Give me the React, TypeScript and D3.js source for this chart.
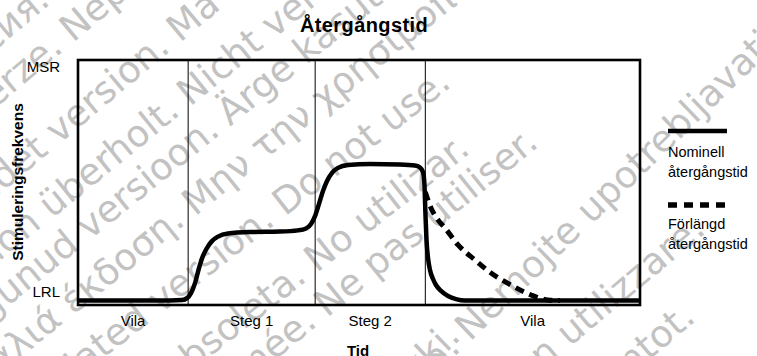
import React from "react";
import * as d3 from "d3";

const W = 757;
const H = 356;

// ---------------- data ----------------
const chartTitle = "Återgångstid";
const yAxisTitle = "Stimuleringsfrekvens";
const xAxisTitle = "Tid";
const yTickValues = [0, 1];
const yTickLabels = ["LRL", "MSR"];
const phaseLabels = ["Vila", "Steg 1", "Steg 2", "Vila"];
const phaseEdges = [0, 19.6, 42.2, 61.8, 100];

// nominal recovery (time in % of chart span, rate as fraction LRL=0 .. MSR=1)
const nominalTime = [
  0, 16.37, 18.51, 19.4, 20.11, 20.82, 21.53, 22.24, 22.95, 23.84, 24.91, 26.69,
  30.6, 35.94, 39.15, 40.57, 41.46, 42.17, 42.88, 43.59, 44.31, 45.2, 46.26, 48.04,
  51.96, 57.3, 59.96, 60.85, 61.39, 61.65, 61.83, 62.01, 62.28, 62.63, 63.17, 63.7,
  64.59, 65.84, 67.26, 68.86, 100,
];
const nominalRate = [
  0, 0, 0.002, 0.01, 0.031, 0.073, 0.136, 0.187, 0.22, 0.249, 0.268, 0.281,
  0.287, 0.289, 0.294, 0.302, 0.321, 0.354, 0.405, 0.459, 0.501, 0.535, 0.556, 0.568,
  0.572, 0.57, 0.566, 0.558, 0.539, 0.484, 0.358, 0.254, 0.178, 0.128, 0.09, 0.065,
  0.04, 0.019, 0.006, 0, 0,
];
// extended recovery
const extendedTime = [61.79, 62.81, 64.06, 65.3, 67.62, 70.64, 73.49, 77.05, 80.6, 83.63, 85.77];
const extendedRate = [0.455, 0.388, 0.338, 0.304, 0.233, 0.17, 0.115, 0.065, 0.023, 0.002, 0];

const legendNames = ["Nominell", "Förlängd"];
const legendSub = ["återgångstid", "återgångstid"];

const watermarkFirst = [
  "Остаряла версия.",
  "Zastaralá verze.",
  "Forældet version.",
  "Version überholt.",
  "Aegunud versioon.",
  "Παλιά έκδοση.",
  "Outdated version.",
  "Versión obsoleta.",
  "Version périmée.",
  "Zastarjela verzija.",
  "Úrelt útgáfa.",
  "Versione obsoleta.",
  "Novecojusi versija.",
];
const watermarkSecond = [
  "Да не се използва.",
  "Nepoužívat.",
  "Må ikke anvendes.",
  "Nicht verwenden.",
  "Ärge kasutage.",
  "Μην την χρησιμοποιείτε.",
  "Do not use.",
  "No utilizar.",
  "Ne pas utiliser.",
  "Nemojte upotrebljavati.",
  "Notið ekki.",
  "Non utilizzare.",
  "Neizmantot.",
];

// ---------------- layout ----------------
const frame = { left: 78, right: 640, top: 60, bottom: 305 };
// watermark placement: anchor = start of 2nd half ("start") or end of line ("end")
const wmX = [60, 73, 180, 190, 230, 195, 285, 316.7, 327, 470, 462, 707, 697];
const wmY = [-4, 43, 43, 107, 126.7, 216.7, 216.7, 273.3, 318, 342, 338, 232, 320];
const wmAngle = [40, 40, 40, 39, 39, 39, 38, 38, 39, 44, 44, 40, 40];
const wmAlign = ["start", "start", "start", "start", "start", "start", "start", "start", "start", "start", "end", "end", "end"];

export default function App() {
  const x = d3.scaleLinear().domain([0, 100]).range([frame.left, frame.right]);
  const y = d3.scaleLinear().domain([0, 1]).range([300.5, 62]);

  const line = d3
    .line<[number, number]>()
    .x((d) => x(d[0]))
    .y((d) => y(d[1]))
    .curve(d3.curveMonotoneX);

  const nominal: [number, number][] = nominalTime.map((t, i) => [t, nominalRate[i]]);
  const extended: [number, number][] = extendedTime.map((t, i) => [t, extendedRate[i]]);

  const font = "'Liberation Sans', Arial, Helvetica, sans-serif";

  return (
    <svg
      width={W}
      height={H}
      viewBox={`0 0 ${W} ${H}`}
      style={{ position: "absolute", left: 0, top: 0, display: "block", background: "#fff" }}
    >
      <rect x={0} y={0} width={W} height={H} fill="#fff" />
      {/* watermark */}
      <g fill="#c2c2c2" fontFamily="'DejaVu Sans', sans-serif" fontSize={37}>
        {watermarkFirst.map((t, i) => (
          <g key={i} transform={`translate(${wmX[i]},${wmY[i]}) rotate(${-wmAngle[i]})`}>
            {wmAlign[i] === "start" ? (
              <>
                <text x={-11} y={0} textAnchor="end">
                  {t}
                </text>
                <text x={0} y={0} textAnchor="start">
                  {watermarkSecond[i]}
                </text>
              </>
            ) : (
              <text x={0} y={0} textAnchor="end">
                {t + " " + watermarkSecond[i]}
              </text>
            )}
          </g>
        ))}
      </g>

      {/* title */}
      <text
        x={364}
        y={32}
        textAnchor="middle"
        fontFamily={font}
        fontWeight="bold"
        fontSize={20}
        letterSpacing={0.4}
      >
        {chartTitle}
      </text>

      {/* phase dividers */}
      {phaseEdges.slice(1, -1).map((e, i) => (
        <line key={i} x1={x(e)} x2={x(e)} y1={frame.top} y2={frame.bottom} stroke="#000" strokeWidth={1} />
      ))}

      {/* frame */}
      <rect
        x={frame.left}
        y={frame.top}
        width={frame.right - frame.left}
        height={frame.bottom - frame.top}
        fill="none"
        stroke="#000"
        strokeWidth={2.6}
      />

      {/* curves */}
      <path d={line(extended) || ""} fill="none" stroke="#000" strokeWidth={5} strokeDasharray="9,6" />
      <path d={line(nominal) || ""} fill="none" stroke="#000" strokeWidth={4.5} strokeLinejoin="round" />

      {/* y tick labels */}
      {yTickValues.map((v, i) => (
        <text
          key={i}
          x={60}
          y={v === 1 ? y(v) + 10 : y(v) - 4}
          textAnchor="end"
          fontFamily={font}
          fontSize={15}
        >
          {yTickLabels[i]}
        </text>
      ))}

      {/* phase labels */}
      {phaseLabels.map((p, i) => (
        <text
          key={i}
          x={(x(phaseEdges[i]) + x(phaseEdges[i + 1])) / 2}
          y={326}
          textAnchor="middle"
          fontFamily={font}
          fontSize={15}
        >
          {p}
        </text>
      ))}

      {/* axis titles */}
      <text
        transform={`translate(23, 182) rotate(-90)`}
        textAnchor="middle"
        fontFamily={font}
        fontWeight="bold"
        fontSize={15.5}
      >
        {yAxisTitle}
      </text>
      <text x={358} y={356} textAnchor="middle" fontFamily={font} fontWeight="bold" fontSize={15}>
        {xAxisTitle}
      </text>

      {/* legend */}
      <line x1={668} x2={727} y1={131} y2={131} stroke="#000" strokeWidth={4.5} />
      <text x={668} y={157} fontFamily={font} fontSize={14.5}>
        {legendNames[0]}
      </text>
      <text x={668} y={177} fontFamily={font} fontSize={14.5}>
        {legendSub[0]}
      </text>
      <line x1={668} x2={725} y1={205} y2={205} stroke="#000" strokeWidth={5.5} strokeDasharray="9,7" />
      <text x={668} y={229} fontFamily={font} fontSize={14.5}>
        {legendNames[1]}
      </text>
      <text x={668} y={249} fontFamily={font} fontSize={14.5}>
        {legendSub[1]}
      </text>
    </svg>
  );
}
